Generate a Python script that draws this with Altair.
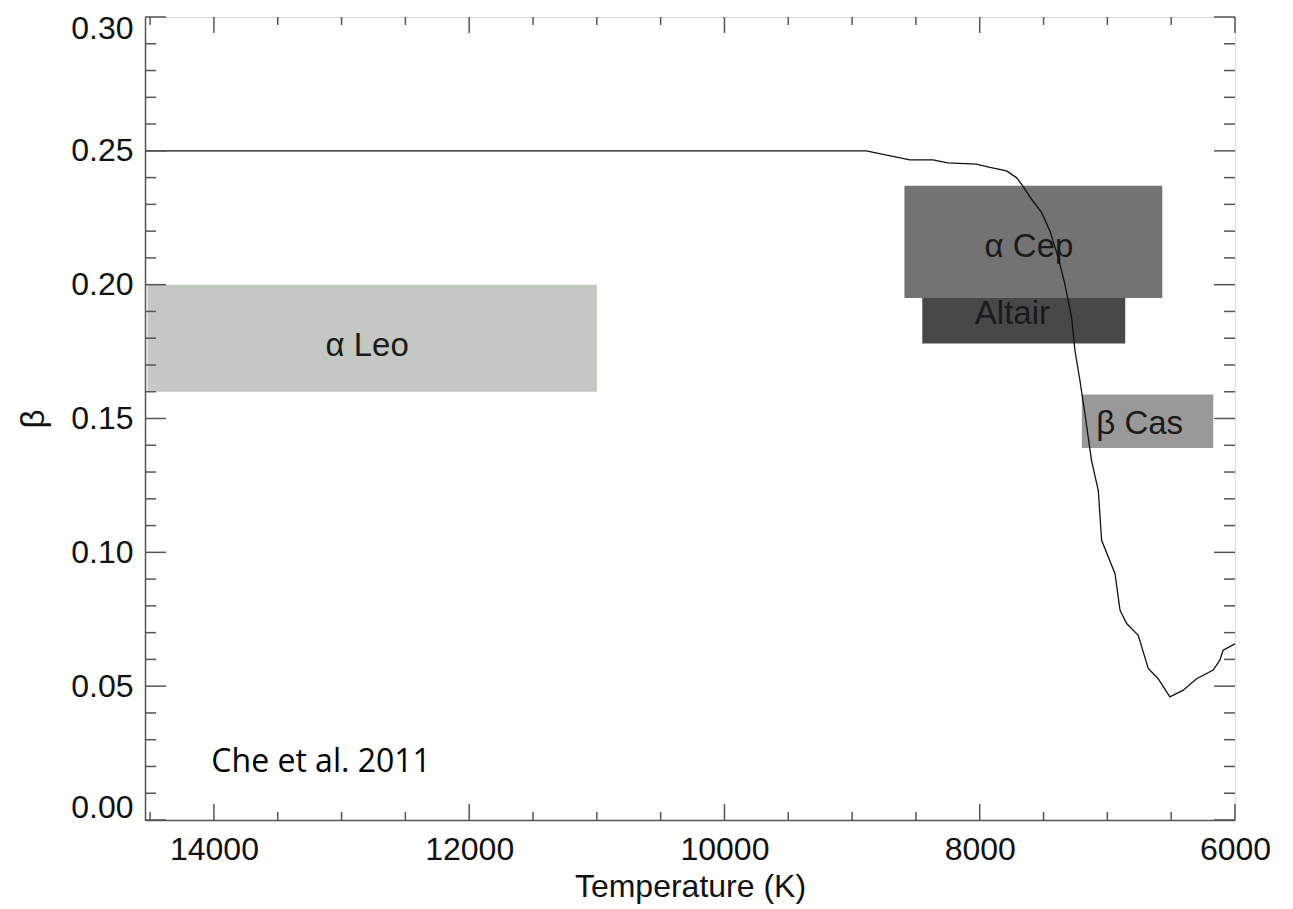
import altair as alt
import pandas as pd

# Model curve: beta vs temperature
curve_T = [14540, 8890, 8547, 8367, 8249, 8026, 7920, 7790, 7712, 7663, 7595, 7516, 7450,
           7385, 7333, 7280, 7254, 7215, 7176, 7124, 7071, 7045, 6940, 6901, 6849, 6758,
           6680, 6602, 6510, 6406, 6301, 6171, 6119, 6093, 6000]
curve_beta = [0.250, 0.2500, 0.2466, 0.2466, 0.2455, 0.2450, 0.2438, 0.2425, 0.2400, 0.2369,
              0.2320, 0.2270, 0.2201, 0.2102, 0.2002, 0.1877, 0.1754, 0.1642, 0.1518, 0.1343,
              0.1231, 0.1045, 0.0920, 0.0784, 0.0734, 0.0690, 0.0566, 0.0528, 0.0460, 0.0485,
              0.0528, 0.0560, 0.0597, 0.0634, 0.0658]

# Star boxes
star_names = ["\u03b1 Leo", "\u03b1 Cep", "Altair", "\u03b2 Cas"]
star_T_hi = [14520, 8590, 8450, 7200]
star_T_lo = [11000, 6570, 6860, 6170]
star_beta_lo = [0.160, 0.195, 0.178, 0.139]
star_beta_hi = [0.200, 0.237, 0.195, 0.159]
star_label_T = [12800, 7614, 7744, 6747]
star_label_beta = [0.177, 0.214, 0.189, 0.148]
star_colors = ["#c4c8c2", "#737373", "#484848", "#999999"]

x_major = [14000, 12000, 10000, 8000, 6000]
x_minor = [14500, 13500, 13000, 12500, 11500, 11000, 10500, 9500, 9000, 8500, 7500, 7000, 6500]
y_major = [0.00, 0.05, 0.10, 0.15, 0.20, 0.25, 0.30]
y_minor = [0.01, 0.02, 0.03, 0.04, 0.06, 0.07, 0.08, 0.09, 0.11, 0.12, 0.13, 0.14,
           0.16, 0.17, 0.18, 0.19, 0.21, 0.22, 0.23, 0.24, 0.26, 0.27, 0.28, 0.29]

W, H = 1090, 803
AX = "#555555"
FONT = "Liberation Sans"

xscale = alt.Scale(domain=[6000, 14540], reverse=True, nice=False, zero=False)
yscale = alt.Scale(domain=[0, 0.30], nice=False, zero=True)

curve_df = pd.DataFrame({"T": curve_T, "beta": curve_beta})
stars_df = pd.DataFrame({
    "name": star_names, "t1": star_T_lo, "t2": star_T_hi,
    "b1": star_beta_lo, "b2": star_beta_hi,
    "lt": star_label_T, "lb": star_label_beta,
})

xaxis = alt.Axis(values=x_major, format="d", ticks=False, grid=False, domainColor=AX,
                 domainWidth=1.5, labelFont=FONT, labelFontSize=32, labelColor="#111",
                 labelPadding=14, labelFlush=False, title="Temperature (K)", titleFont=FONT,
                 titleFontSize=32, titleFontWeight="normal", titleColor="#111", titlePadding=6)
yaxis = alt.Axis(values=y_major, format=".2f", ticks=False, grid=False, domainColor=AX,
                 domainWidth=1.5, labelFont=FONT, labelFontSize=32, labelColor="#111",
                 labelPadding=12, labelFlush=True, labelFlushOffset=4, title="\u03b2",
                 titleFont=FONT, titleFontSize=33, titleFontWeight="normal", titleColor="#111",
                 titlePadding=20)

rects = alt.Chart(stars_df).mark_rect().encode(
    x=alt.X("t1:Q", scale=xscale, axis=xaxis),
    x2="t2:Q",
    y=alt.Y("b1:Q", scale=yscale, axis=yaxis),
    y2="b2:Q",
    color=alt.Color("name:N", scale=alt.Scale(domain=star_names, range=star_colors), legend=None),
)

labels = alt.Chart(stars_df).mark_text(font=FONT, fontSize=33, color="#1a1a1a").encode(
    x=alt.X("lt:Q", scale=xscale),
    y=alt.Y("lb:Q", scale=yscale),
    text="name:N",
)

line = alt.Chart(curve_df).mark_line(color="#111111", strokeWidth=1.3).encode(
    x=alt.X("T:Q", scale=xscale),
    y=alt.Y("beta:Q", scale=yscale),
)

note = alt.Chart(pd.DataFrame({"T": [14020], "b": [0.0215], "s": ["Che et al. 2011"]})).mark_text(
    font="Open Sans", fontSize=32, color="#000", align="left", baseline="middle"
).encode(x=alt.X("T:Q", scale=xscale), y=alt.Y("b:Q", scale=yscale), text="s:N")

def xticks(vals, length):
    d = pd.DataFrame({"T": vals})
    bottom = alt.Chart(d).mark_rule(color=AX, strokeWidth=1.5).encode(
        x=alt.X("T:Q", scale=xscale), y=alt.value(H), y2=alt.value(H - length))
    top = alt.Chart(d).mark_rule(color=AX, strokeWidth=1.5).encode(
        x=alt.X("T:Q", scale=xscale), y=alt.value(0), y2=alt.value(length))
    return [bottom, top]

def yticks(vals, length):
    d = pd.DataFrame({"b": vals})
    left = alt.Chart(d).mark_rule(color=AX, strokeWidth=1.5).encode(
        y=alt.Y("b:Q", scale=yscale), x=alt.value(0), x2=alt.value(length))
    right = alt.Chart(d).mark_rule(color=AX, strokeWidth=1.5).encode(
        y=alt.Y("b:Q", scale=yscale), x=alt.value(W), x2=alt.value(W - length))
    return [left, right]

layers = [rects, labels, line, note] + xticks(x_major, 16) + xticks(x_minor, 8) \
    + yticks(y_major, 21) + yticks(y_minor, 11)

chart = alt.layer(*layers).properties(
    width=W, height=H,
    autosize=alt.AutoSizeParams(type="none"),
    padding={"left": 137, "top": 9, "right": 50, "bottom": 85},
).configure_view(stroke=AX, strokeWidth=1.5).configure(background="white")

chart.save("out.html", embed_options={"renderer": "svg", "actions": False})
